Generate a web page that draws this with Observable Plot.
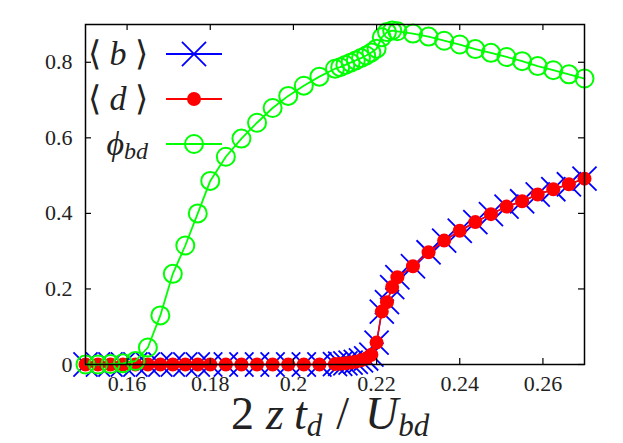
<!DOCTYPE html>
<html><head><meta charset="utf-8">
<script src="https://cdn.jsdelivr.net/npm/d3@7"></script>
<script src="https://cdn.jsdelivr.net/npm/@observablehq/plot@0.6"></script>
<style>
body{margin:0;background:#fff;}
#wrap{position:relative;width:623px;height:443px;overflow:hidden;}
.ov{position:absolute;font-family:'Liberation Serif';color:#222;line-height:0.75;white-space:pre;}
.it{font-style:italic;}
.sub{font-style:italic;position:relative;}
</style></head><body><div id="wrap"></div>
<script>
// x = 2 z t_d / U_bd
const xVals = [0.15,0.153,0.156,0.159,0.162,0.165,0.168,0.171,0.174,0.177,0.18,
  0.18375,0.1875,0.19125,0.195,0.19875,0.2025,0.20625,0.21,
  0.21125,0.2125,0.21375,0.215,0.21625,0.2175,0.21875,0.22,0.22125,0.2225,0.22375,0.225,
  0.22875,0.2325,0.23625,0.24,0.24375,0.2475,0.25125,0.255,0.25875,0.2625,0.26625,0.27];
// <b>
const bVals = [0,0,0,0,0,0,0,0,0,0,0,
  0,0,0,0,0,0,0,0.001,
  0.002,0.003,0.005,0.007,0.011,0.016,0.026,0.058,0.140,0.165,0.205,0.231,
  0.260,0.297,0.328,0.354,0.377,0.398,0.418,0.432,0.450,0.464,0.477,0.492];
// <d>
const dVals = [0,0,0,0,0,0,0,0,0,0,0,
  0,0,0,0,0,0,0,0.001,
  0.002,0.003,0.005,0.007,0.011,0.016,0.026,0.058,0.140,0.165,0.205,0.231,
  0.260,0.297,0.328,0.354,0.377,0.398,0.418,0.432,0.450,0.464,0.477,0.492];
// phi_bd
const phiVals = [0,0,0.001,0.003,0.009,0.045,0.130,0.240,0.315,0.400,0.486,
  0.550,0.598,0.640,0.679,0.711,0.738,0.762,0.783,
  0.787,0.793,0.799,0.805,0.811,0.818,0.826,0.836,0.866,0.880,0.884,0.882,
  0.876,0.868,0.857,0.847,0.835,0.825,0.814,0.803,0.790,0.779,0.768,0.757];
const xTicks = [0.16,0.18,0.2,0.22,0.24,0.26];
const yTicks = [0,0.2,0.4,0.6,0.8];
const seriesColors = {b:"#0000ff", d:"#ff0000", phi:"#00ff00"};

const rows = xVals.map((x,i)=>({x, b:bVals[i], d:dVals[i], phi:phiVals[i]}));
const W=623,H=443,mL=85,mR=39,mT=24,mB=79;
const innerW=W-mL-mR, innerH=H-mT-mB, tk=6;

const chart = Plot.plot({
  width:W, height:H, marginLeft:mL, marginRight:mR, marginTop:mT, marginBottom:mB,
  x:{domain:[0.15,0.27]}, y:{domain:[0,0.9]},
  style:{fontFamily:"Liberation Serif", fontSize:"22px", color:"#222", background:"white", overflow:"visible"},
  marks:[
    Plot.line(rows,{x:"x",y:"b",stroke:seriesColors.b,strokeWidth:1.5}),
    Plot.dot(rows,{x:"x",y:"b",symbol:"times",r:11,stroke:seriesColors.b,strokeWidth:1.8}),
    Plot.line(rows,{x:"x",y:"d",stroke:seriesColors.d,strokeWidth:1.5}),
    Plot.dot(rows,{x:"x",y:"d",r:7,fill:seriesColors.d,stroke:"none"}),
    Plot.line(rows,{x:"x",y:"phi",stroke:seriesColors.phi,strokeWidth:1.8}),
    Plot.dot(rows,{x:"x",y:"phi",r:9,stroke:seriesColors.phi,strokeWidth:2,fill:"none"}),
    Plot.tickX(xTicks,{x:d=>d,insetTop:innerH-tk,stroke:"black",strokeWidth:1.2}),
    Plot.tickX(xTicks,{x:d=>d,insetBottom:innerH-tk,stroke:"black",strokeWidth:1.2}),
    Plot.tickY(yTicks,{y:d=>d,insetRight:innerW-tk,stroke:"black",strokeWidth:1.2}),
    Plot.tickY(yTicks,{y:d=>d,insetLeft:innerW-tk,stroke:"black",strokeWidth:1.2}),
    Plot.frame({stroke:"black",strokeWidth:1.5}),
    Plot.axisX({ticks:xTicks,tickSize:0,tickPadding:11,tickFormat:d=>String(d),label:null}),
    Plot.axisY({ticks:yTicks,tickSize:0,tickPadding:13,tickFormat:d=>String(d),label:null})
  ]
});
const wrap = document.getElementById("wrap");
wrap.appendChild(chart);

const svg = d3.select(chart);
svg.selectAll("text").attr("font-family","Liberation Serif");

// x axis label (HTML overlay), baseline ~429
const xl = document.createElement("div");
xl.className = "ov";
xl.style.cssText += "left:231px;top:397px;font-size:46px;";
xl.innerHTML = '2<span class="it" style="margin-left:12px">z</span><span class="it" style="margin-left:10px">t</span><span class="sub" style="font-size:31px;top:7px">d</span><span style="margin-left:14px">/</span><span class="it" style="margin-left:16px">U</span><span class="sub" style="font-size:31px;top:7px">bd</span>';
wrap.appendChild(xl);

// legend
const leg = [
  {key:"b", y:54, html:'⟨ <span class="it">b</span> ⟩'},
  {key:"d", y:99, html:'⟨ <span class="it">d</span> ⟩'},
  {key:"phi", y:144, html:'<span class="it">ϕ</span><span class="sub" style="font-size:24px;top:4px">bd</span>'}
];
const lg = svg.append("g");
leg.forEach(L=>{
  const t = document.createElement("div");
  t.className = "ov";
  // line-height .75: baseline = top + 0.7125em
  t.style.cssText += `right:${623-148}px;top:${L.y+11-0.7125*34}px;font-size:34px;text-align:right;`;
  t.innerHTML = L.html;
  wrap.appendChild(t);
  lg.append("line").attr("x1",166).attr("x2",222).attr("y1",L.y).attr("y2",L.y)
    .attr("stroke",seriesColors[L.key]).attr("stroke-width",1.8);
  const cx=194;
  if(L.key==="b"){
    const s = d3.symbol(d3.symbolTimes, Math.PI*11*11)();
    lg.append("path").attr("d",s).attr("transform",`translate(${cx},${L.y})`).attr("stroke",seriesColors.b).attr("stroke-width",1.8).attr("fill","none");
  } else if(L.key==="d"){
    lg.append("circle").attr("cx",cx).attr("cy",L.y).attr("r",7).attr("fill",seriesColors.d);
  } else {
    lg.append("circle").attr("cx",cx).attr("cy",L.y).attr("r",9).attr("fill","none").attr("stroke",seriesColors.phi).attr("stroke-width",2);
  }
});
</script>
</body></html>
